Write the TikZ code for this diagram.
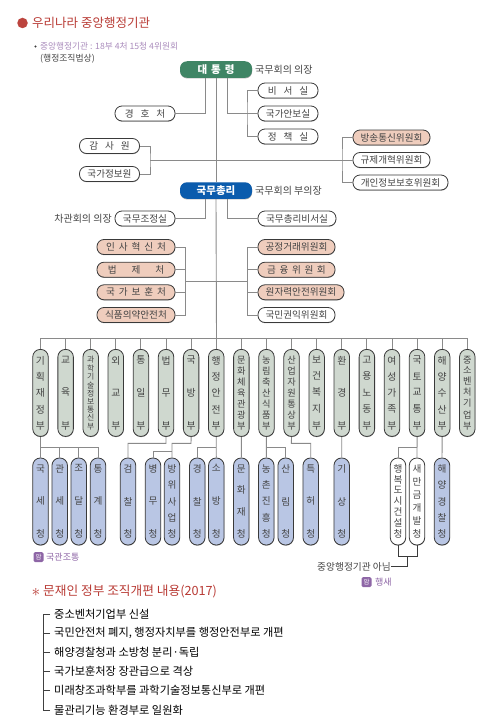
\documentclass[tikz,border=0pt]{standalone}
\usepackage{fontspec}
\setmainfont{Noto Sans CJK KR}
\usetikzlibrary{calc,shadows}
\definecolor{cLINE}{HTML}{8A8A8A}
\definecolor{cEDGE}{HTML}{3A3A3A}
\definecolor{cTXT}{HTML}{444444}
\definecolor{cRED}{HTML}{B83A34}
\definecolor{cPUR}{HTML}{8E66A6}
\definecolor{cGRN}{HTML}{3F8565}
\definecolor{cBLU}{HTML}{0B5CAD}
\definecolor{cSAL}{HTML}{EFCDBD}
\definecolor{cMIN}{HTML}{CFD8CF}
\definecolor{cAGY}{HTML}{B9C6E4}
\newcommand{\fsz}[1]{\fontsize{#1}{#1}\selectfont}
\newcommand{\gp}[1]{\hspace{#1pt}}
\newcommand{\vtxt}[1]{\parbox[c][73pt][s]{13pt}{\offinterlineskip\foreach \c [count=\n] in #1 {\ifnum\n>1 \vfill\fi\hbox to 13pt{\hss\c\hss}}}}
\tikzset{
  conn/.style={cLINE, line width=0.9pt},
  pill/.style={draw=cEDGE, line width=0.8pt, inner sep=0pt, text=cTXT, fill=white,
    drop shadow={shadow xshift=0.2pt, shadow yshift=-0.7pt, opacity=0.35, fill=black}},
  hpill/.style={pill, rounded corners=7pt, minimum height=15pt, font=\fsz{9.6}},
  vpill/.style={pill, rounded corners=7.5pt, minimum width=15.5pt, minimum height=87pt},
  headpill/.style={hpill, draw=none, text=white, minimum width=72pt, minimum height=16.5pt, font=\bfseries\fsz{10.5}},
  note/.style={inner sep=0pt, text=cTXT, font=\fsz{10}},
  badge/.style={fill=cPUR, rounded corners=1.5pt, minimum size=10pt, inner sep=0pt, text=white, font=\fsz{6.5}},
  badgetxt/.style={inner sep=0pt, text=cPUR, anchor=west, font=\fsz{9}},
  item/.style={inner sep=0pt, anchor=west, font=\fsz{11.2}}
}
\begin{document}
\begin{tikzpicture}[x=1pt, y=-1pt]
\useasboundingbox (0,0) rectangle (499,725);

\node[circle, fill=cRED!95!white, minimum size=10.5pt, inner sep=0pt] (dot) at (22.5,23) {};
\node[inner sep=0pt, anchor=west, text=cRED, font=\fsz{12.5}] (title) at (32,23) {우리나라 중앙행정기관};
\node[circle, fill=cEDGE, minimum size=2.4pt, inner sep=0pt] (bul) at (35.5,46.5) {};
\node[inner sep=0pt, anchor=west, text=cPUR!75!white, font=\fsz{8.7}] (sub) at (40,46.5) {중앙행정기관 : 18부 4처 15청 4위원회};
\node[inner sep=0pt, anchor=west, text=cTXT, font=\fsz{8.8}] (law) at (40,59) {(행정조직법상)};

\node[headpill, fill=cGRN] (pres) at (216,69.5) {대\gp{4}통\gp{4}령};
\node[note, anchor=west] at (255,69.5) {국무회의 의장};
\node[hpill, minimum width=60pt] (sec) at (288,90.5) {비\gp{7}서\gp{7}실};
\node[hpill, minimum width=60pt] (nsc) at (288,113.5) {국가안보실};
\node[hpill, minimum width=60pt] (pol) at (288,136.5) {정\gp{7}책\gp{7}실};
\node[hpill, minimum width=60pt] (guard) at (145,113.5) {경\gp{7}호\gp{7}처};
\node[hpill, minimum width=60pt] (aud) at (109.5,146) {감\gp{7}사\gp{7}원};
\node[hpill, minimum width=60pt] (nis) at (109.5,174) {국가정보원};
\node[hpill, fill=cSAL, minimum width=77pt] (bc) at (391.5,137.5) {방송통신위원회};
\node[hpill, minimum width=77pt] (reg) at (391.5,160) {규제개혁위원회};
\node[hpill, minimum width=95pt] (pi) at (400.5,182.5) {개인정보보호위원회};

\node[headpill, fill=cBLU] (pm) at (216,190.5) {국무총리};
\node[note, anchor=west] at (255,190.5) {국무회의 부의장};
\node[hpill, minimum width=60pt] (opc) at (145,218.5) {국무조정실};
\node[note, anchor=east] at (112,218.5) {차관회의 의장};
\node[hpill, minimum width=78pt] (pms) at (297,218.5) {국무총리비서실};

\foreach \i/\y/\t in {1/247/인\gp{3.9}사\gp{3.9}혁\gp{3.9}신\gp{3.9}처, 2/269.7/법\gp{15}제\gp{15}처, 3/292.3/국\gp{3.9}가\gp{3.9}보\gp{3.9}훈\gp{3.9}처, 4/315/식품의약안전처} {
  \node[hpill, fill=cSAL, minimum width=78pt] (cho\i) at (136,\y) {\t};
}
\foreach \i/\x/\w/\y/\c/\t in {1/296.5/77/247/cSAL/공정거래위원회, 2/296.5/77/269.7/cSAL/금\gp{3.6}융\gp{3.6}위\gp{3.6}원\gp{3.6}회, 3/301/86/292.3/cSAL/원자력안전위원회, 4/296.5/77/315/white/국민권익위원회} {
  \node[hpill, fill=\c, minimum width=\w pt] (com\i) at (\x,\y) {\t};
}

\foreach \i/\s/\t in {1/9.8/{기,획,재,정,부}, 2/9.8/{교,육,부}, 3/7.8/{과,학,기,술,정,보,통,신,부}, 4/9.8/{외,교,부}, 5/9.8/{통,일,부}, 6/9.8/{법,무,부}, 7/9.8/{국,방,부}, 8/9.8/{행,정,안,전,부}, 9/9.2/{문,화,체,육,관,광,부}, 10/9.2/{농,림,축,산,식,품,부}, 11/9.2/{산,업,자,원,통,상,부}, 12/9.8/{보,건,복,지,부}, 13/9.8/{환,경,부}, 14/9.8/{고,용,노,동,부}, 15/9.8/{여,성,가,족,부}, 16/9.8/{국,토,교,통,부}, 17/9.8/{해,양,수,산,부}, 18/9.2/{중,소,벤,처,기,업,부}} {
  \node[vpill, fill=cMIN, font=\fsz{\s}] (m\i) at ({40.5+(\i-1)*25.106},392.9) {\vtxt{\t}};
}
\foreach \i/\x/\c/\t in {1/40.5/cAGY/{국,세,청}, 2/59.7/cAGY/{관,세,청}, 3/78.7/cAGY/{조,달,청}, 4/98/cAGY/{통,계,청}, 5/128/cAGY/{검,찰,청}, 6/153/cAGY/{병,무,청}, 7/172/cAGY/{방,위,사,업,청}, 8/197.3/cAGY/{경,찰,청}, 9/216.3/cAGY/{소,방,청}, 10/241.3/cAGY/{문,화,재,청}, 11/266.3/cAGY/{농,촌,진,흥,청}, 12/285.7/cAGY/{산,림,청}, 13/310.7/cAGY/{특,허,청}, 14/341.7/cAGY/{기,상,청}, 15/398/white/{행,복,도,시,건,설,청}, 16/417/white/{새,만,금,개,발,청}, 17/442/cAGY/{해,양,경,찰,청}} {
  \node[vpill, fill=\c, font=\fsz{9.6}] (a\i) at (\x,501.5) {\vtxt{\t}};
}

\coordinate (jsec) at (247,113.5);
\coordinate (jl) at (150,160);
\coordinate (jr) at (342,160);
\coordinate (jcl) at (185,281);
\coordinate (jcr) at (247,281);
\coordinate (bus) at (216.5,338);
\draw[conn] (pres.south) -- (pm.north);
\draw[conn] (pm.south) -- (bus);
\draw[conn] ($(pres.south)+(-11,0)$) |- (guard.east);
\draw[conn] ($(pres.south)+(11.5,0)$) |- (nsc.west);
\draw[conn] (sec.west) -| (jsec) |- (pol.west);
\draw[conn] (aud.east) -| (jl) |- (nis.east);
\draw[conn] (jl) -- (reg.west);
\draw[conn] (bc.west) -| (jr) |- (pi.west);
\draw[conn] ($(pm.south)+(-11,0)$) |- (opc.east);
\draw[conn] ($(pm.south)+(11.5,0)$) |- (pms.west);
\draw[conn] (jcl) -- (jcr);
\foreach \i in {1,...,4} {
  \draw[conn] (cho\i.east) -| (jcl);
  \draw[conn] (com\i.west) -| (jcr);
}
\draw[conn] (m1.north |- bus) -- (m18.north |- bus);
\foreach \i in {1,...,18} {
  \draw[conn] (m\i.north |- bus) -- (m\i.north);
}

\coordinate (b1) at (40.5,447);
\coordinate (b2) at (166,443.3);
\coordinate (b3) at (191,443.3);
\coordinate (b4) at (172,451);
\coordinate (b5) at (216.3,447);
\coordinate (b6) at (266.3,447);
\coordinate (b7) at (291.3,443.3);
\coordinate (b8) at (417,447);
\draw[conn] (m1.south) -- (a1.north);
\draw[conn] (b1) -| (a2.north);
\draw[conn] (b1) -| (a3.north);
\draw[conn] (b1) -| (a4.north);
\draw[conn] (m6.south) -- (b2) -| (a5.north);
\draw[conn] (m7.south) -- (b3) -| (a7.north);
\draw[conn] (b4) -| (a6.north);
\draw[conn] (m8.south) -- (a9.north);
\draw[conn] (b5) -| (a8.north);
\draw[conn] (m9.south) -- (a10.north);
\draw[conn] (m10.south) -- (a11.north);
\draw[conn] (b6) -| (a12.north);
\draw[conn] (m11.south) -- (b7) -| (a13.north);
\draw[conn] (m13.south) -- (a14.north);
\draw[conn] (m16.south) -- (a16.north);
\draw[conn] (b8) -| (a15.north);
\draw[conn] (m17.south) -- (a17.north);

\node[note, anchor=east, font=\fsz{9.7}] (na) at (391,566.7) {중앙행정기관 아님};
\coordinate (jna) at (407.5,556);
\draw[cEDGE, line width=0.9pt] (a15.south) |- (a16.south |- jna) -- (a16.south);
\draw[cEDGE, line width=0.9pt] (jna) |- (na.east);

\node[badge] (bd1) at (38.5,557) {암};
\node[badgetxt] (bt1) at (46,557) {국관조통};
\node[badge] (bd2) at (366.5,582) {암};
\node[badgetxt] (bt2) at (375,582) {행새};

\node[inner sep=0pt, text=cRED, font=\fsz{16}] (star) at (36,592.5) {$*$};
\node[inner sep=0pt, anchor=west, text=cRED, font=\fsz{12.7}] (head) at (43,591) {문재인 정부 조직개편 내용(2017)};
\foreach \i/\y/\t in {1/614.3/중소벤처기업부 신설, 2/633.3/{국민안전처 폐지, 행정자치부를 행정안전부로 개편}, 3/652.3/해양경찰청과 소방청 분리·독립, 4/671.5/국가보훈처장 장관급으로 격상, 5/690.7/미래창조과학부를 과학기술정보통신부로 개편, 6/710/물관리기능 환경부로 일원화} {
  \node[item] (l\i) at (54,\y) {\t};
}
\coordinate (tt) at (43.5,614.3);
\foreach \i in {1,...,6} {
  \draw[black!75, line width=0.8pt, shorten <=4pt] (l\i.west) -| (tt);
}
\end{tikzpicture}
\end{document}
